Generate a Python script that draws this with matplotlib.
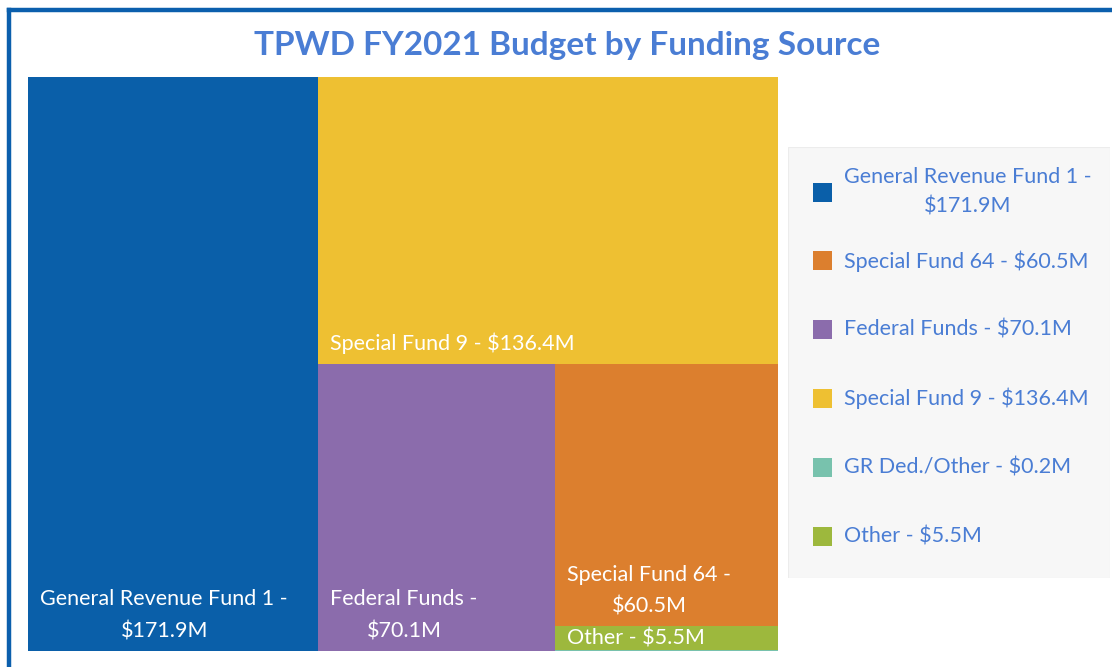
import matplotlib.pyplot as plt
from matplotlib.patches import Rectangle
from matplotlib.lines import Line2D

# Budget data ($M), treemap order (largest first)
names = ['General Revenue Fund 1', 'Special Fund 9', 'Federal Funds',
         'Special Fund 64', 'Other', 'GR Ded./Other']
values = [171.9, 136.4, 70.1, 60.5, 5.5, 0.2]
labels = ['General Revenue Fund 1 -\n$171.9M', 'Special Fund 9 - $136.4M',
          'Federal Funds -\n$70.1M', 'Special Fund 64 -\n$60.5M',
          'Other - $5.5M', '']
colors = ['#0a5fa9', '#eec032', '#8b6cac', '#dc7f2e', '#9db83d', '#78c2ad']

# legend order as in the original
legend_order = ['General Revenue Fund 1', 'Special Fund 64', 'Federal Funds',
                'Special Fund 9', 'GR Ded./Other', 'Other']
legend_text = ['General Revenue Fund 1 -\n$171.9M', 'Special Fund 64 - $60.5M',
               'Federal Funds - $70.1M', 'Special Fund 9 - $136.4M',
               'GR Ded./Other - $0.2M', 'Other - $5.5M']

plt.rcParams['font.family'] = ['Lato', 'DejaVu Sans']
W, H = 11.12, 6.67
fig = plt.figure(figsize=(W, H), dpi=100)
fig.patch.set_facecolor('white')

# blue frame (top + left edges)
fig.add_artist(Line2D([9 / 1112, 1.0], [1 - 10 / 667, 1 - 10 / 667],
                      color='#0b5fad', lw=3.2, transform=fig.transFigure))
fig.add_artist(Line2D([9 / 1112, 9 / 1112], [0.0, 1 - 10 / 667],
                      color='#0b5fad', lw=3.2, transform=fig.transFigure))

fig.text(567 / 1112, 1 - 45 / 667, 'TPWD FY2021 Budget by Funding Source',
         ha='center', va='center', fontsize=24, fontweight='bold', color='#4a7dd4')

# treemap axes
ax = fig.add_axes([28 / 1112, 16 / 667, 750 / 1112, 574 / 667])
ax.set_xlim(0, 1)
ax.set_ylim(0, 1)
ax.axis('off')


def slice_layout(vals, x, y, w, h, dirs):
    # alternating slice layout: each item takes a slice of the remaining rect
    rects = []
    rest = sum(vals)
    for v, d in zip(vals, dirs):
        frac = v / rest if rest > 0 else 0
        if d == 'v':  # slice from the left
            rects.append((x, y, w * frac, h))
            x += w * frac
            w -= w * frac
        else:  # slice from the top
            rects.append((x, y + h - h * frac, w, h * frac))
            h -= h * frac
        rest -= v
    return rects


rects = slice_layout(values, 0, 0, 1, 1, ['v', 'h', 'v', 'h', 'h', 'h'])
ax_h_pt = 574 * 0.72

for (x0, y0, w, h), lab, c in zip(rects, labels, colors):
    ax.add_patch(Rectangle((x0, y0), w, h, facecolor=c, edgecolor='none'))
    if lab:
        pad = min(7, h * ax_h_pt * 0.08)
        t = ax.annotate(lab, xy=(x0, y0), xytext=(9, pad), textcoords='offset points',
                        ha='left', va='bottom', multialignment='center',
                        color='white', fontsize=15.5, linespacing=1.75)
        t.set_clip_path(Rectangle((x0, y0), w, h, transform=ax.transData))

# legend panel
lax = fig.add_axes([788 / 1112, 1 - 578 / 667, 322 / 1112, 431 / 667])
lax.set_xlim(788, 1110)
lax.set_ylim(578, 147)
lax.axis('off')
lax.add_patch(Rectangle((788, 147), 322, 431, facecolor='#f7f7f7',
                        edgecolor='#ececec', lw=0.8))
color_of = dict(zip(names, colors))
for i, (nm, txt) in enumerate(zip(legend_order, legend_text)):
    yc = 192 + i * 68.8
    lax.add_patch(Rectangle((813, yc - 9.5), 19, 19, facecolor=color_of[nm],
                            edgecolor='none'))
    lax.text(844, yc, txt, ha='left', va='center', multialignment='center',
             color='#4a7dd4', fontsize=15.5, linespacing=1.6)

plt.savefig('out.png', dpi=100, facecolor='white')
